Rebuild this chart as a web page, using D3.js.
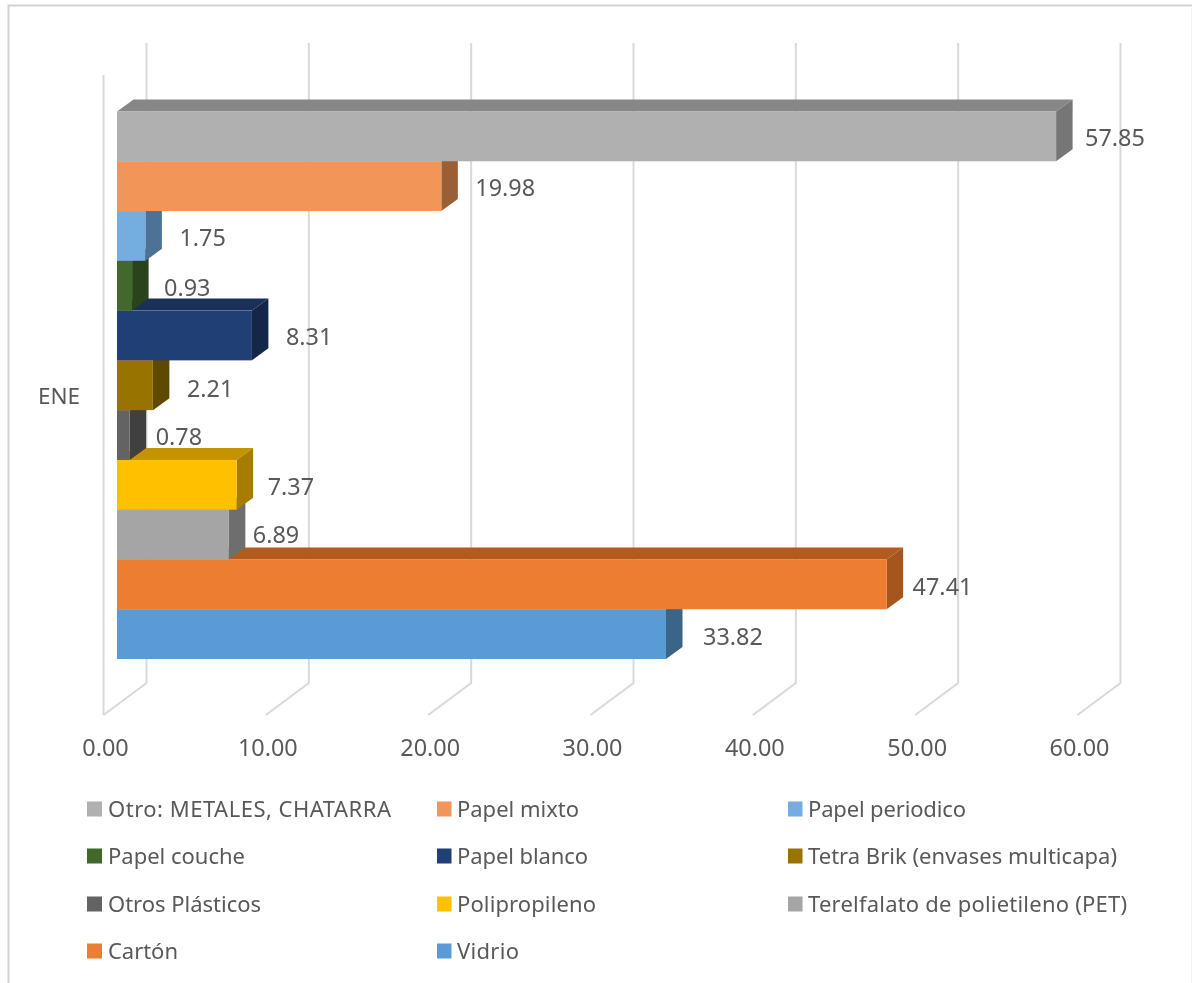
<!DOCTYPE html>
<html><head><meta charset="utf-8">
<script src="https://cdnjs.cloudflare.com/ajax/libs/d3/7.8.5/d3.min.js"></script>
<style>html,body{margin:0;padding:0;background:#fff}svg{display:block;filter:blur(.6px)}text{font-family:"Noto Sans",sans-serif;fill:#595959}</style>
</head><body><svg id="c" width="1192" height="983"></svg>
<script>
const categories=["ENE"];
const seriesNames=["Otro: METALES, CHATARRA","Papel mixto","Papel periodico","Papel couche","Papel blanco","Tetra Brik (envases multicapa)","Otros Plásticos","Polipropileno","Terelfalato de polietileno (PET)","Cartón","Vidrio"];
const seriesValues=[57.85,19.98,1.75,0.93,8.31,2.21,0.78,7.37,6.89,47.41,33.82];
const frontColors=["#b0b0b0","#f29559","#75ade0","#43682b","#203f74","#997300","#636363","#ffc000","#a5a5a5","#ed7d31","#5b9bd5"];
const topColors=["#878787","#b97244","#5a84ac","#334f21","#193059","#755800","#4c4c4c","#c49400","#7e7e7e","#b35a1f","#466f96"];
const sideColors=["#767676","#9b5f36","#4d7295","#2a431b","#142749","#5f4800","#404040","#a67d00","#6e6e6e","#a5561f","#3a6488"];
const xTicks=[0,10,20,30,40,50,60];
const labelNudge=[0,5,5,3,5,5,-3,2,-5,-3,8];
const labelDy=[-.5,-.5,-.5,.5,-1,2,-.5,0,-1.5,0,1];
const legendTextWidths=[283,122,158,137,131,309,153,139,319,70,62];

const svg=d3.select("#c");
svg.append("path").attr("d","M8.5,983V5.5H1192").attr("fill","none").attr("stroke","#d2d2d2").attr("stroke-width",2);
svg.append("path").attr("d","M1191.5,6V983").attr("fill","none").attr("stroke","#f2f2f2").attr("stroke-width",1);

const floorX=d3.scaleLinear().domain([0,60]).range([103.5,1077.5]);
const barX=d3.scaleLinear().domain([0,60]).range([117,1091]);
const y=d3.scaleBand().domain(seriesNames).range([111.5,659]);
const wallDx=43,wallDy=-32,floorY=715,wallH=640,barDx=16.5,barDy=-12;

const grid=svg.append("g").attr("fill","none").attr("stroke","#d9d9d9").attr("stroke-width",2);
grid.selectAll("path").data(xTicks).join("path").attr("d",v=>{
  const x=floorX(v);
  return `M${x+wallDx},${floorY+wallDy-wallH}V${floorY+wallDy}L${x},${floorY}`;
});
grid.append("path").attr("d",`M${floorX(0)},${floorY-wallH}V${floorY}`);

const idx=d3.range(seriesNames.length).reverse();
const bars=svg.append("g").selectAll("g").data(idx).join("g");
bars.append("path").attr("fill",i=>topColors[i]).attr("d",i=>{
  const x0=barX(0),x1=barX(seriesValues[i]),t=y(seriesNames[i]);
  return `M${x0},${t}L${x0+barDx},${t+barDy}H${x1+barDx}L${x1},${t}Z`;
});
bars.append("path").attr("fill",i=>sideColors[i]).attr("d",i=>{
  const x1=barX(seriesValues[i]),t=y(seriesNames[i]),b=t+y.bandwidth();
  return `M${x1},${t}L${x1+barDx},${t+barDy}V${b+barDy}L${x1},${b}Z`;
});
bars.append("rect").attr("fill",i=>frontColors[i])
  .attr("x",barX(0)).attr("y",i=>y(seriesNames[i]))
  .attr("width",i=>barX(seriesValues[i])-barX(0)).attr("height",y.bandwidth());

svg.append("g").selectAll("text").data(idx).join("text")
  .attr("x",i=>barX(seriesValues[i])+29+labelNudge[i])
  .attr("y",i=>y(seriesNames[i])+y.bandwidth()/2+2+labelDy[i])
  .attr("dy",".35em").attr("font-size",23.4)
  .text(i=>seriesValues[i].toFixed(2));

const axis=d3.axisBottom(floorX).tickValues(xTicks).tickSize(0).tickPadding(0).tickFormat(d3.format(".2f"));
const ag=svg.append("g").attr("transform","translate(1.5,739)").call(axis);
ag.select(".domain").remove();
ag.selectAll("text").attr("font-size",23.4).attr("fill",null).attr("font-family",null);
ag.attr("font-family",null).attr("font-size",null);

svg.append("text").attr("x",59).attr("y",396).attr("dy",".35em").attr("text-anchor","middle").attr("font-size",22.5).text(categories[0]);

const legX=[87,437,788],legY=[809,856,904,951];
const leg=svg.append("g").selectAll("g").data(seriesNames).join("g")
  .attr("transform",(d,i)=>`translate(${legX[i%3]},${legY[Math.floor(i/3)]})`);
leg.append("rect").attr("y",-7.5).attr("width",(d,i)=>i%3==0?15:14.5).attr("height",15).attr("fill",(d,i)=>frontColors[i]);
leg.append("text").attr("x",(d,i)=>i%3==0?21:20).attr("dy",".35em").attr("font-size",22).attr("textLength",(d,i)=>legendTextWidths[i]).attr("lengthAdjust","spacing").text(d=>d);
</script></body></html>
